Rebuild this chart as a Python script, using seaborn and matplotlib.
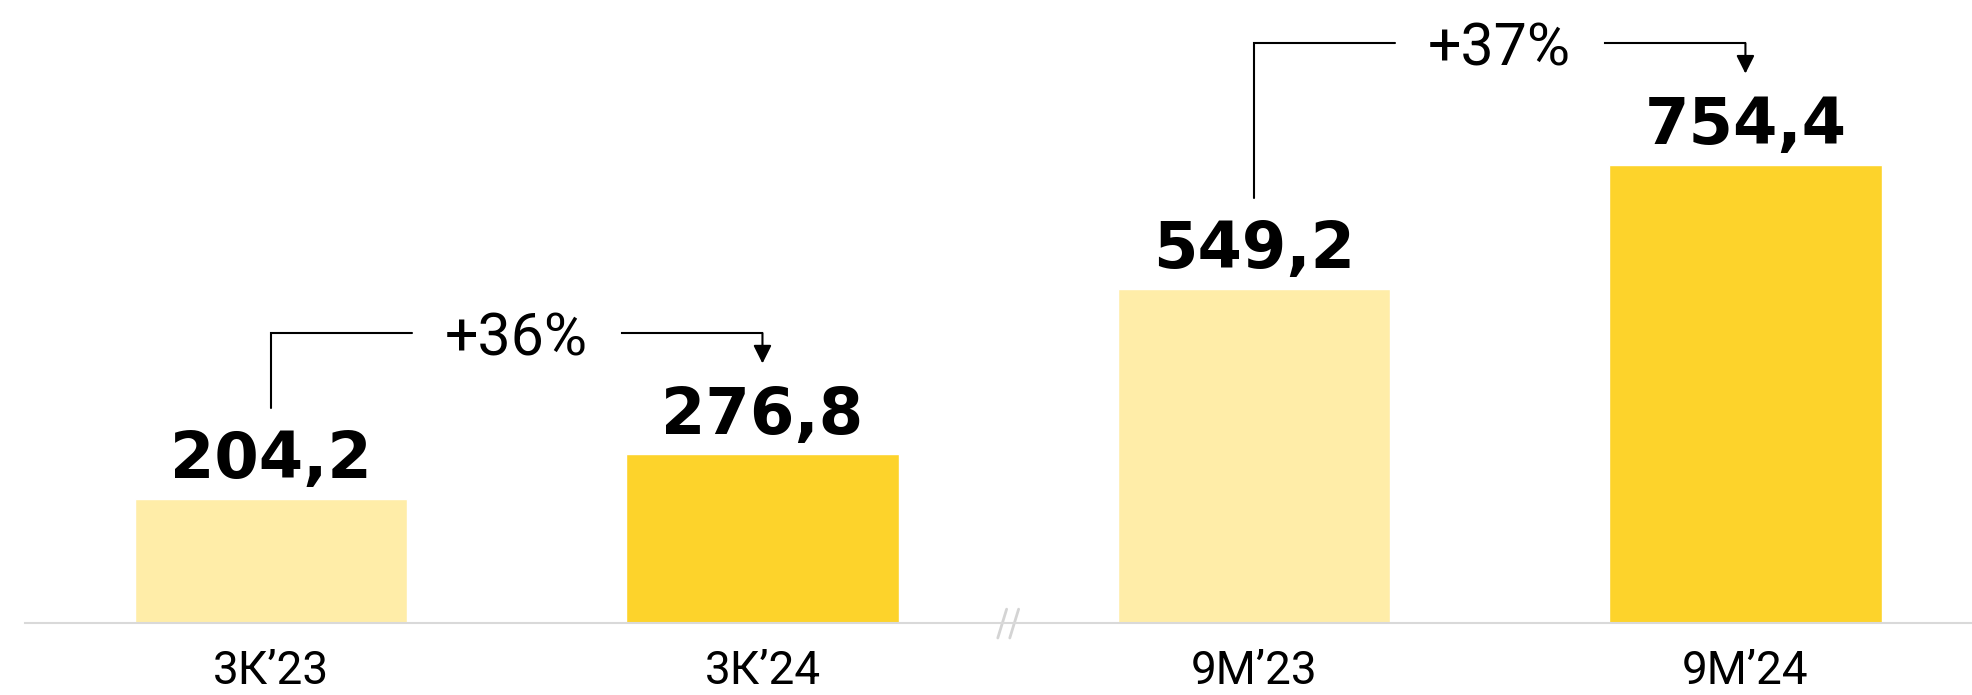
import matplotlib.pyplot as plt
import seaborn as sns

periods = ["3К’23", "3К’24", "9М’23", "9М’24"]
values = [204.2, 276.8, 549.2, 754.4]
bar_colors = ["#FFEDA8", "#FDD32B", "#FFEDA8", "#FDD32B"]
pairs = [(0, 1), (2, 3)]

sns.set_style("white")
plt.rcParams["font.family"] = ["Roboto", "DejaVu Sans"]
plt.rcParams["text.color"] = "black"
plt.rcParams["xtick.color"] = "black"

fig = plt.figure(figsize=(19.72, 6.95), dpi=100)
ax = fig.add_axes([25 / 1972, 72.5 / 695, 1947 / 1972, 622.5 / 695])

sns.barplot(x=periods, y=values, hue=periods, palette=bar_colors, width=0.555,
            saturation=1, legend=False, ax=ax)

ax.set_xlim(-0.5005, 3.461)
ax.set_ylim(0, 1025.6)

# value labels above bars
for i, v in enumerate(values):
    ax.annotate(f"{v:.1f}".replace(".", ","), (i, v), xytext=(0, 15), textcoords="offset points",
                ha="center", va="baseline", fontsize=46, fontweight="bold", family="DejaVu Sans",
                color="black")

# growth brackets
gap = 0.214
for a, b in pairs:
    h = max(values[a], values[b]) + 200
    mid = (a + b) / 2
    ax.plot([a, a, mid - gap], [values[a] + 150, h, h], color="black", lw=1.5,
            solid_joinstyle="miter")
    ax.plot([mid + gap, b], [h, h], color="black", lw=1.5, solid_capstyle="projecting")
    ax.annotate("", xy=(b, values[b] + 150), xytext=(b, h),
                arrowprops=dict(arrowstyle="-|>,head_length=0.5,head_width=0.25", color="black",
                                lw=1.5, mutation_scale=22, shrinkA=0, shrinkB=0))
    pct = round((values[b] / values[a] - 1) * 100)
    ax.text(mid, h - 37, f"+{pct}%", ha="center", va="baseline", fontsize=42.5, color="black")

# axis break mark between the two groups
for dx in (-0.0122, 0.0122):
    ax.plot([1.5 + dx - 0.009, 1.5 + dx + 0.009], [-25.5, 22], color="#d4d4d4", lw=2,
            clip_on=False)

for side in ["top", "right", "left"]:
    ax.spines[side].set_visible(False)
ax.spines["bottom"].set_color("#d9d9d9")
ax.spines["bottom"].set_linewidth(1.5)
ax.set_yticks([])
ax.set_xlabel("")
ax.set_ylabel("")
ax.tick_params(axis="x", length=0, pad=19, labelsize=33)

fig.savefig("out.png", dpi=100)
